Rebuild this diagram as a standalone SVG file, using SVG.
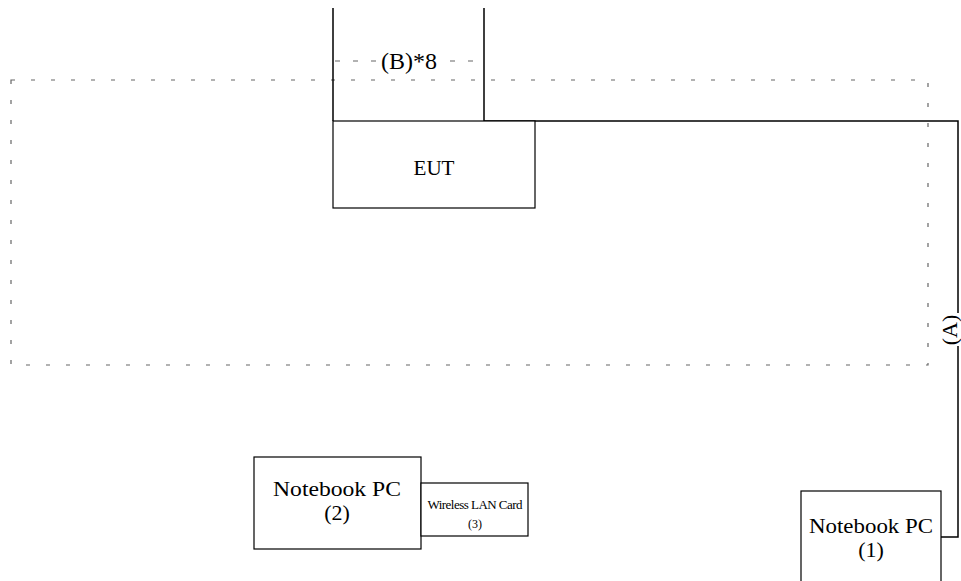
<svg xmlns="http://www.w3.org/2000/svg" width="961" height="581" viewBox="0 0 961 581">
<style>
.box{fill:#fff;stroke:#000;stroke-width:1.2}
.ln{fill:none;stroke:#000;stroke-width:1.5}
.dash{fill:none;stroke:#666;stroke-width:1.2;stroke-dasharray:4 16}
.dash2{fill:none;stroke:#666;stroke-width:1.2;stroke-dasharray:5 13}
text{font-family:"Liberation Serif","Times New Roman",serif;fill:#000;text-anchor:middle}
</style>
<rect x="0" y="0" width="961" height="581" fill="#fff"/>
<g id="area">
<rect class="dash" x="11" y="80" width="917" height="285"/>
</g>
<g id="connectors">
<line class="dash2" x1="335" y1="61" x2="378" y2="61"/>
<line class="dash2" x1="450" y1="61" x2="476" y2="61"/>
<path class="ln" d="M333 8 V121 M484 8 V121 H958 V313 M958 346 V537 H941"/>
<text x="409" y="69" font-size="23" textLength="56" lengthAdjust="spacingAndGlyphs">(B)*8</text>
<text transform="translate(957 330) rotate(-90)" font-size="22">(A)</text>
</g>
<g id="eut">
<rect class="box" x="333" y="121" width="202" height="87"/>
<text x="434" y="175" font-size="22" textLength="41" lengthAdjust="spacingAndGlyphs">EUT</text>
</g>
<g id="pc2">
<rect class="box" x="254" y="457" width="167" height="92"/>
<text x="337" y="496" font-size="22" textLength="128" lengthAdjust="spacingAndGlyphs">Notebook PC</text>
<text x="337" y="520" font-size="22">(2)</text>
</g>
<g id="wlan">
<rect class="box" x="421" y="483" width="107" height="53"/>
<text x="475" y="509" font-size="13" textLength="95" lengthAdjust="spacing">Wireless LAN Card</text>
<text x="475" y="528" font-size="12">(3)</text>
</g>
<g id="pc1">
<rect class="box" x="801" y="491" width="140" height="100"/>
<text x="871" y="533" font-size="22" textLength="124" lengthAdjust="spacingAndGlyphs">Notebook PC</text>
<text x="871" y="557" font-size="22">(1)</text>
</g>
</svg>
